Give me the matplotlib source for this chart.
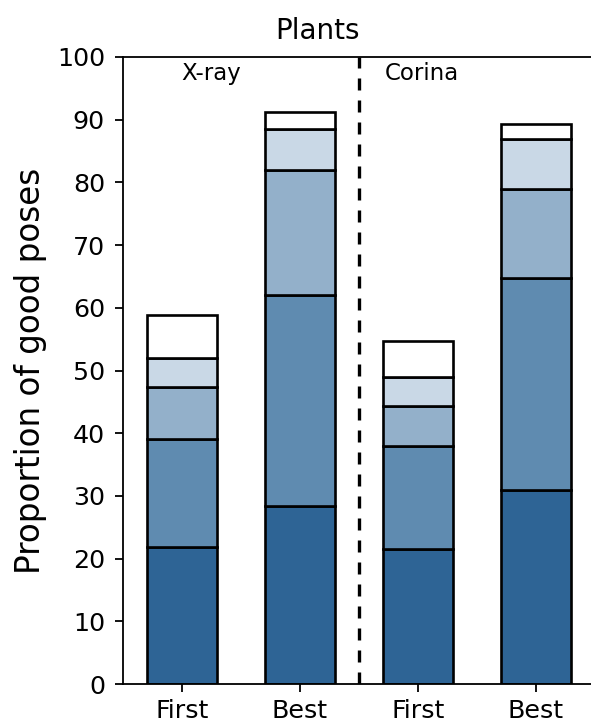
import matplotlib
matplotlib.use("Agg")
import matplotlib.pyplot as plt
import numpy as np

categories = ["First", "Best", "First", "Best"]
# cumulative boundaries of each stacked layer
layer1 = [21.9, 28.4, 21.5, 30.9]
layer2 = [39.1, 62.1, 38.0, 64.7]
layer3 = [47.3, 82.0, 44.3, 78.9]
layer4 = [52.0, 88.5, 49.0, 86.9]
layer5 = [58.9, 91.2, 54.7, 89.3]
colors = ["#2e6495", "#5f8bb0", "#93b0ca", "#c9d8e6", "#ffffff"]
group_labels = ["X-ray", "Corina"]

fig = plt.figure(figsize=(5.91, 7.24), dpi=100)
ax = fig.add_axes([123/591, 1-684/724, (595-123)/591, (684-57)/724])

x = np.arange(len(categories))
cums = [layer1, layer2, layer3, layer4, layer5]
prev = np.zeros(len(categories))
for c, col in zip(cums, colors):
    c = np.array(c)
    ax.bar(x, c - prev, bottom=prev, width=0.6, color=col,
           edgecolor="black", linewidth=1.9, zorder=2)
    prev = c

ax.axvline(1.5, color="black", linestyle=(0, (3.6, 3.0)), linewidth=2.4, zorder=3)
ax.set_xlim(-0.5, 3.5)
ax.set_ylim(0, 100)
ax.set_yticks(np.arange(0, 101, 10))
ax.set_xticks(x)
ax.set_xticklabels(categories)
ax.tick_params(axis="y", labelsize=18.3, width=1.3, length=6, pad=7)
ax.tick_params(axis="x", labelsize=18.3, width=1.3, length=6, pad=5)
for s in ax.spines.values():
    s.set_linewidth(1.3)
ax.set_ylabel("Proportion of good poses", fontsize=23.5, labelpad=7)
ax.text(0.25, 97.3, group_labels[0], ha="center", va="center", fontsize=16.5)
ax.text(2.03, 97.3, group_labels[1], ha="center", va="center", fontsize=16.5)
fig.text(318/591, 1-31/724, "Plants", ha="center", va="center", fontsize=20)

fig.savefig("out.png", dpi=100)
